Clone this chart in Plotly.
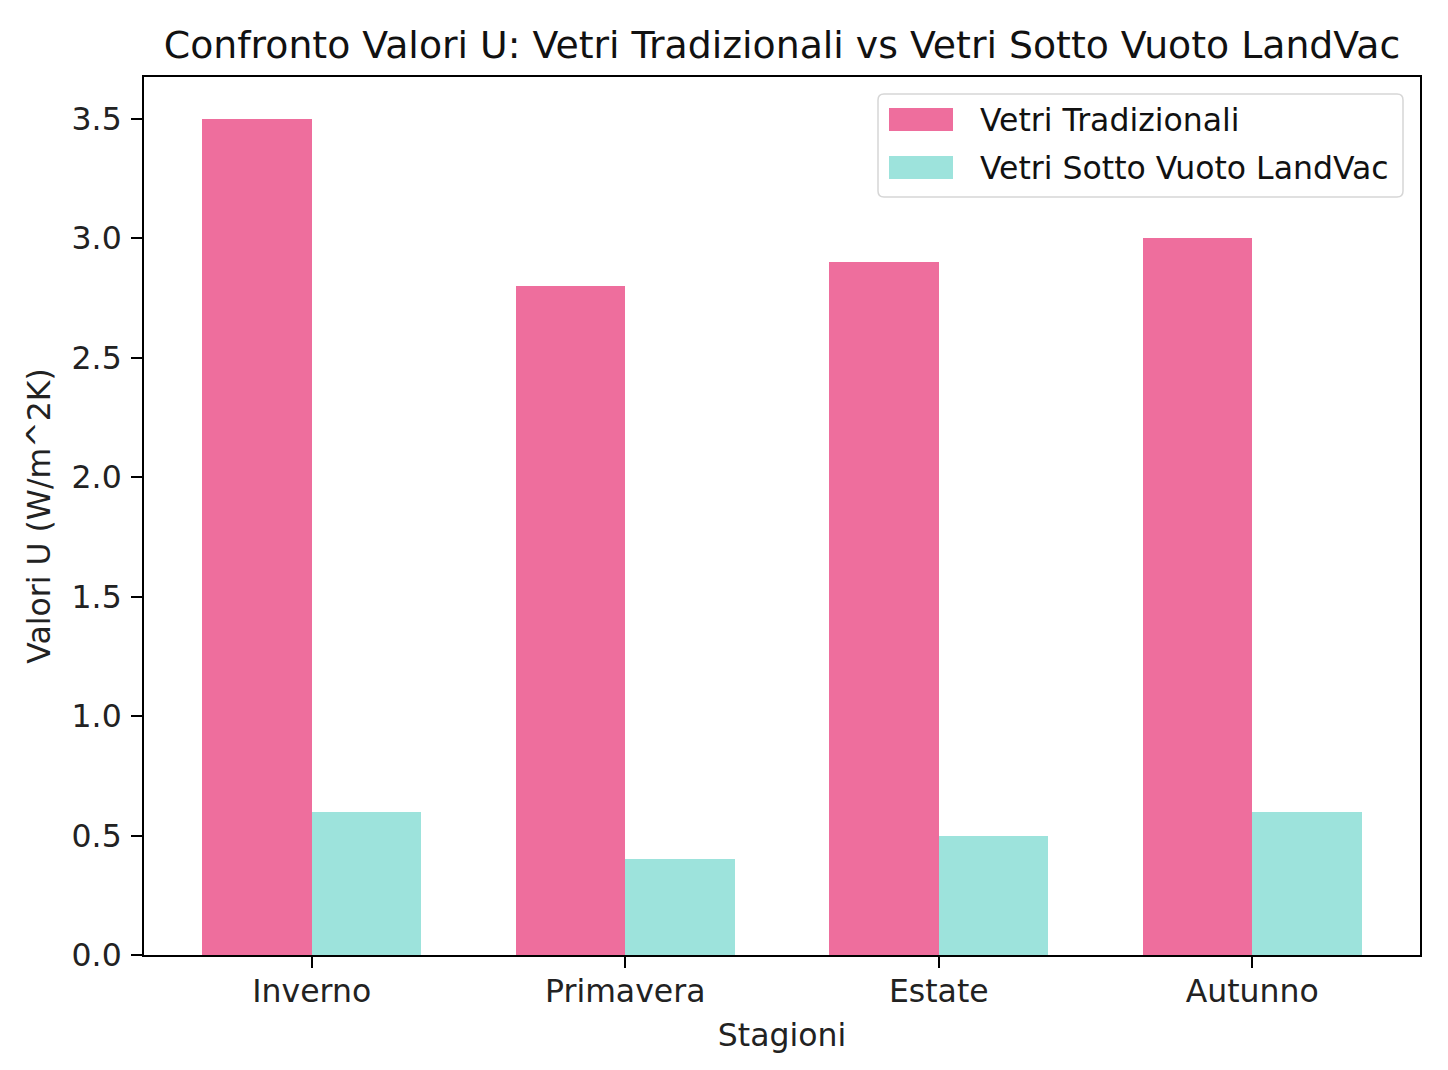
import plotly.graph_objects as go

stagioni = ["Inverno", "Primavera", "Estate", "Autunno"]
vetri_tradizionali = [3.5, 2.8, 2.9, 3.0]
vetri_landvac = [0.6, 0.4, 0.5, 0.6]
serie_nomi = ["Vetri Tradizionali", "Vetri Sotto Vuoto LandVac"]
colori = ["#EE6E9D", "#9DE3DC"]
y_ticks = [0.0, 0.5, 1.0, 1.5, 2.0, 2.5, 3.0, 3.5]

pos = list(range(len(stagioni)))
w = 0.35

fig = go.Figure()
fig.add_trace(go.Bar(x=[p - w/2 for p in pos], y=vetri_tradizionali, width=w,
                     name=serie_nomi[0], marker=dict(color=colori[0], line=dict(width=0))))
fig.add_trace(go.Bar(x=[p + w/2 for p in pos], y=vetri_landvac, width=w,
                     name=serie_nomi[1], marker=dict(color=colori[1], line=dict(width=0))))

# figure geometry (page has ~8px body offset)
W, H = 1432, 1054
L, R, T, B = 136, 20, 69, 107
pw, ph = W - L - R, H - T - B

font = "DejaVu Sans"
fs = 31.5

def px_x(px):
    return (px - L) / pw

def px_y(py):
    return (H - B - py) / ph

# manual matplotlib-style legend (rounded box, wide swatches)
bx0, bx1, by0, by1 = px_x(870), px_x(1395), px_y(189), px_y(86)
rx, ry = 6 / pw, 6 / ph
path = (f"M {bx0+rx},{by1} L {bx1-rx},{by1} Q {bx1},{by1} {bx1},{by1-ry} "
        f"L {bx1},{by0+ry} Q {bx1},{by0} {bx1-rx},{by0} L {bx0+rx},{by0} "
        f"Q {bx0},{by0} {bx0},{by0+ry} L {bx0},{by1-ry} Q {bx0},{by1} {bx0+rx},{by1} Z")
shapes = [dict(type="path", xref="paper", yref="paper", path=path,
               fillcolor="rgba(255,255,255,0.8)", line=dict(color="#d6d6d6", width=1.5), layer="above")]
annotations = []
swatch_rows = [(100, 123), (148, 171)]
for (top, bot), nome, col in zip(swatch_rows, serie_nomi, colori):
    shapes.append(dict(type="rect", xref="paper", yref="paper",
                       x0=px_x(881), x1=px_x(945), y0=px_y(bot), y1=px_y(top),
                       fillcolor=col, line=dict(width=0), layer="above"))
    annotations.append(dict(text=nome, xref="paper", yref="paper", x=px_x(970), y=px_y((top + bot) / 2),
                            xanchor="left", yanchor="middle", showarrow=False,
                            font=dict(size=fs, family=font, color="#111")))

fig.update_layout(
    width=W, height=H,
    paper_bgcolor="white", plot_bgcolor="white",
    margin=dict(l=L, r=R, t=T, b=B, pad=0),
    font=dict(family=font, size=fs, color="#222"),
    title=dict(text="Confronto Valori U: Vetri Tradizionali vs Vetri Sotto Vuoto LandVac",
               x=(L + pw / 2) / W, xanchor="center", y=1 - 37 / H, yanchor="middle",
               font=dict(size=37.8, family=font, color="#111")),
    barmode="overlay", bargap=0,
    showlegend=False,
    shapes=shapes, annotations=annotations,
)
fig.update_xaxes(range=[-0.535, 3.535], tickvals=pos, ticktext=stagioni,
                 showgrid=False, zeroline=False, showline=True, linecolor="black", linewidth=2,
                 mirror=True, ticks="outside", ticklen=11, tickwidth=2, tickcolor="black",
                 ticklabelstandoff=-4,
                 tickfont=dict(size=fs, family=font, color="#222"),
                 title=dict(text="Stagioni", font=dict(size=fs, family=font), standoff=16))
fig.update_yaxes(range=[0, 3.675], tickvals=y_ticks, ticktext=[f"{v:.1f}" for v in y_ticks],
                 showgrid=False, zeroline=False, showline=True, linecolor="black", linewidth=2,
                 mirror=True, ticks="outside", ticklen=11, tickwidth=2, tickcolor="black",
                 ticklabelstandoff=3,
                 tickfont=dict(size=fs, family=font, color="#222"),
                 title=dict(text="Valori U (W/m^2K)", font=dict(size=fs, family=font), standoff=12))

fig.write_html("out.html")
